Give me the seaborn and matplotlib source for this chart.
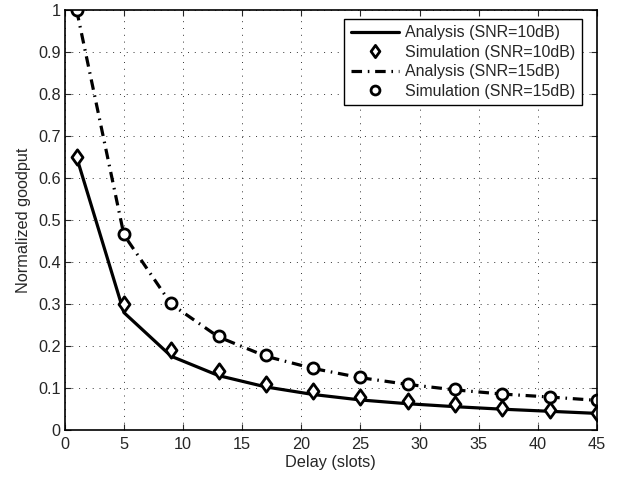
import matplotlib
matplotlib.use("Agg")
import matplotlib.pyplot as plt
from matplotlib.path import Path
import seaborn as sns
import pandas as pd

delay = [1, 5, 9, 13, 17, 21, 25, 29, 33, 37, 41, 45]
ana10 = [0.65, 0.28, 0.176, 0.130, 0.103, 0.085, 0.072, 0.063, 0.056, 0.050, 0.045, 0.040]
sim10 = [0.65, 0.30, 0.190, 0.142, 0.110, 0.093, 0.078, 0.070, 0.062, 0.054, 0.048, 0.042]
ana15 = [1.0, 0.465, 0.300, 0.222, 0.176, 0.147, 0.125, 0.109, 0.096, 0.086, 0.079, 0.071]
sim15 = [1.0, 0.467, 0.302, 0.224, 0.178, 0.148, 0.126, 0.110, 0.097, 0.087, 0.080, 0.072]

sns.set_style("ticks")
plt.rcParams['font.family'] = ['Liberation Sans', 'DejaVu Sans']

diamond = Path([(0, 1), (0.72, 0), (0, -1), (-0.72, 0), (0, 1)],
               [Path.MOVETO, Path.LINETO, Path.LINETO, Path.LINETO, Path.CLOSEPOLY])

fig = plt.figure(figsize=(6.29, 4.78), dpi=100)
ax = fig.add_axes([0.103, 0.100, 0.846, 0.879])

df = pd.DataFrame({"delay": delay, "ana10": ana10, "sim10": sim10, "ana15": ana15, "sim15": sim15})

sns.lineplot(data=df, x="delay", y="ana10", ax=ax, color="black", lw=2.3,
             label="Analysis (SNR=10dB)")
sns.lineplot(data=df, x="delay", y="sim10", ax=ax, color="black", lw=0, marker=diamond,
             markersize=11, markerfacecolor="white", markeredgecolor="black", markeredgewidth=2,
             label="Simulation (SNR=10dB)")
sns.lineplot(data=df, x="delay", y="ana15", ax=ax, color="black", lw=2.3,
             label="Analysis (SNR=15dB)")
ax.lines[-1].set_dashes([3.3, 1.8, 0.5, 1.8])
sns.lineplot(data=df, x="delay", y="sim15", ax=ax, color="black", lw=0, marker="o",
             markersize=8, markerfacecolor="white", markeredgecolor="black", markeredgewidth=2,
             label="Simulation (SNR=15dB)")

ax.set_xlim(0, 45)
ax.set_ylim(0, 1)
ax.set_xticks(range(0, 46, 5))
ax.set_yticks([i / 10 for i in range(11)])
ax.set_yticklabels(["0", "0.1", "0.2", "0.3", "0.4", "0.5", "0.6", "0.7", "0.8", "0.9", "1"])
ax.grid(True, linestyle=(0, (1, 6)), color="black", lw=0.7, alpha=0.8)
ax.tick_params(direction="in", top=True, right=True, labelsize=11.7, length=4, width=0.8)
ax.tick_params(axis="x", pad=5)
ax.tick_params(axis="y", pad=3)
for s in ax.spines.values():
    s.set_linewidth(1.2)
    s.set_color("black")
ax.set_xlabel("Delay (slots)", fontsize=11.7, labelpad=2)
ax.set_ylabel("Normalized goodput", fontsize=11.7, labelpad=5)

leg = ax.legend(loc="upper right", bbox_to_anchor=(0.972, 0.979), fontsize=11.5, frameon=True,
                fancybox=False, edgecolor="black", framealpha=1, borderpad=0.4,
                labelspacing=0.28, handlelength=3.06, handletextpad=0.37, borderaxespad=0,
                markerscale=0.8)
leg.get_frame().set_linewidth(1.0)

fig.savefig("out.png", dpi=100)
